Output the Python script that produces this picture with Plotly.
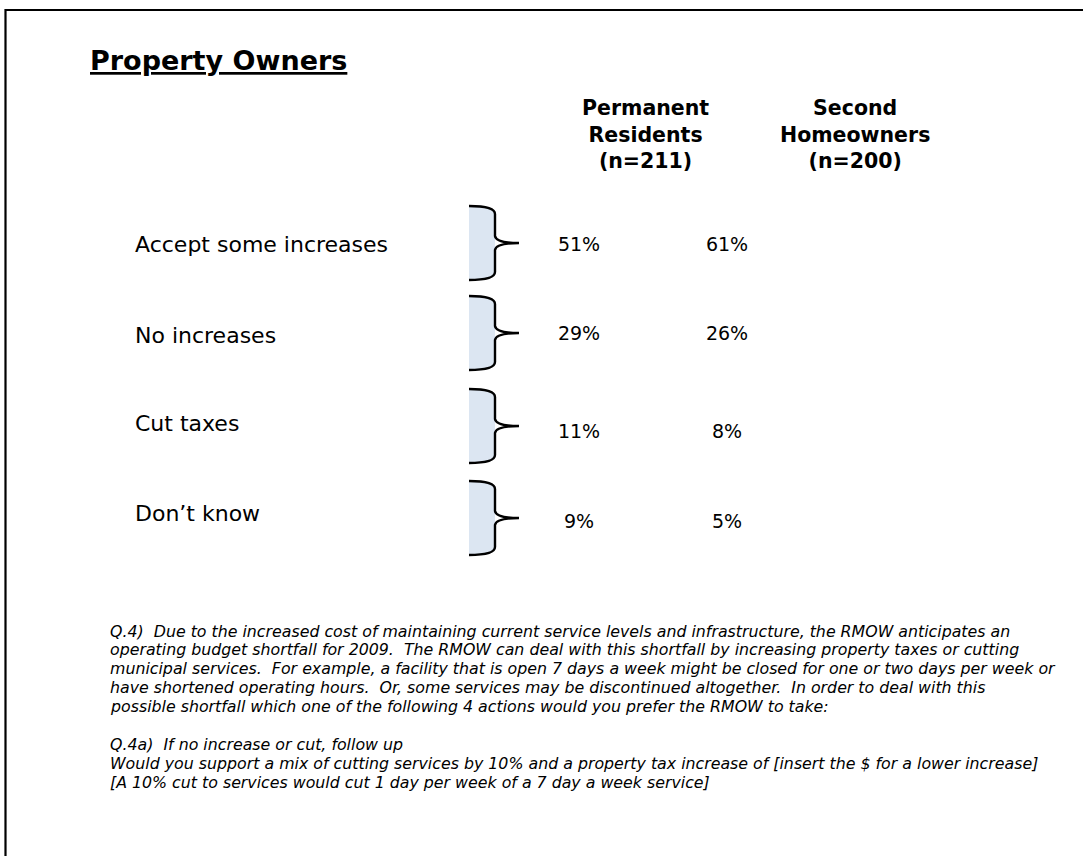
import plotly.graph_objects as go

# ---- data ----
title = "Property Owners"
groups = ["Permanent<br>Residents<br>(n=211)", "Second<br>Homeowners<br>(n=200)"]
categories = ["Accept some increases", "No increases", "Cut taxes", "Don\u2019t know"]
permanent_residents = [51, 29, 11, 9]
second_homeowners = [61, 26, 8, 5]
footnote_lines = [
    "Q.4)  Due to the increased cost of maintaining current service levels and infrastructure, the RMOW anticipates an",
    "operating budget shortfall for 2009.  The RMOW can deal with this shortfall by increasing property taxes or cutting",
    "municipal services.  For example, a facility that is open 7 days a week might be closed for one or two days per week or",
    "have shortened operating hours.  Or, some services may be discontinued altogether.  In order to deal with this",
    "possible shortfall which one of the following 4 actions would you prefer the RMOW to take:",
    "",
    "Q.4a)  If no increase or cut, follow up",
    "Would you support a mix of cutting services by 10% and a property tax increase of [insert the $ for a lower increase]",
    "[A 10% cut to services would cut 1 day per week of a 7 day a week service]",
]

# ---- layout constants (pixel space) ----
W, H = 1083, 856
FONT = "DejaVu Sans"
label_x = 135
label_y = [246, 337, 425, 515]
value_y = [246, 335, 433, 523]
col_x = [579, 727]
header_x = [645, 855]
header_y = 134.5
brace_y = [243, 333, 426, 518]
brace_half = 37
bx0, bx1, btip = 469, 495, 519
foot_x = 108
foot_y0 = 631
foot_dy = 18.9

def nb(s):
    return s.replace("  ", "\u00a0 ")

fig = go.Figure()

# row labels
fig.add_trace(go.Scatter(
    x=[label_x] * len(categories), y=label_y, mode="text",
    text=categories, textposition="middle right",
    textfont=dict(family=FONT, size=22, color="#000000"),
    hoverinfo="skip", showlegend=False))

# values
for cx, vals in zip(col_x, [permanent_residents, second_homeowners]):
    fig.add_trace(go.Scatter(
        x=[cx] * len(vals), y=value_y, mode="text",
        text=[f"{v}%" for v in vals], textposition="middle center",
        textfont=dict(family=FONT, size=19, color="#000000"),
        hoverinfo="skip", showlegend=False))

shapes = []
# frame (left & top edges visible)
shapes.append(dict(type="path", xref="x", yref="y",
                   path=f"M 5.5 {H+5} L 5.5 10 L {W+5} 10",
                   line=dict(color="#000000", width=2.2)))
# braces
for yc in brace_y:
    y0, y1 = yc - brace_half, yc + brace_half
    fill = (f"M {bx0} {y0} C {bx0+16} {y0} {bx1} {y0+2} {bx1} {y0+8} "
            f"L {bx1} {y1-8} C {bx1} {y1-2} {bx0+16} {y1} {bx0} {y1} Z")
    shapes.append(dict(type="path", xref="x", yref="y", path=fill,
                       fillcolor="#dce6f2", line=dict(width=0)))
    stroke = (f"M {bx0} {y0} C {bx0+16} {y0} {bx1} {y0+2} {bx1} {y0+8} "
              f"L {bx1} {yc-7} Q {bx1+1} {yc} {btip} {yc} "
              f"Q {bx1+1} {yc} {bx1} {yc+7} "
              f"L {bx1} {y1-8} C {bx1} {y1-2} {bx0+16} {y1} {bx0} {y1}")
    shapes.append(dict(type="path", xref="x", yref="y", path=stroke,
                       line=dict(color="#000000", width=2.4)))

annotations = []
annotations.append(dict(x=88, y=60, xref="x", yref="y", xanchor="left", yanchor="middle",
                        text=f"<b><u>{title}</u></b>", showarrow=False,
                        font=dict(family=FONT, size=27, color="#000000")))
for hx, g in zip(header_x, groups):
    annotations.append(dict(x=hx, y=header_y, xref="x", yref="y", xanchor="center", yanchor="middle",
                            text=f"<b>{g}</b>", showarrow=False, align="center",
                            font=dict(family=FONT, size=20.5, color="#000000")))
for i, line in enumerate(footnote_lines):
    if not line:
        continue
    annotations.append(dict(x=foot_x, y=foot_y0 + i * foot_dy, xref="x", yref="y",
                            xanchor="left", yanchor="middle", showarrow=False,
                            text=f"<i>{nb(line)}</i>",
                            font=dict(family=FONT, size=15.8, color="#000000")))

fig.update_layout(
    width=W, height=H,
    margin=dict(l=0, r=0, t=0, b=0),
    paper_bgcolor="white", plot_bgcolor="white",
    xaxis=dict(range=[0, W], visible=False, fixedrange=True),
    yaxis=dict(range=[H, 0], visible=False, fixedrange=True),
    shapes=shapes, annotations=annotations,
)

fig.write_html("out.html", config={"displayModeBar": False},
               post_script="document.body.style.margin='0';document.body.style.overflow='hidden';")
